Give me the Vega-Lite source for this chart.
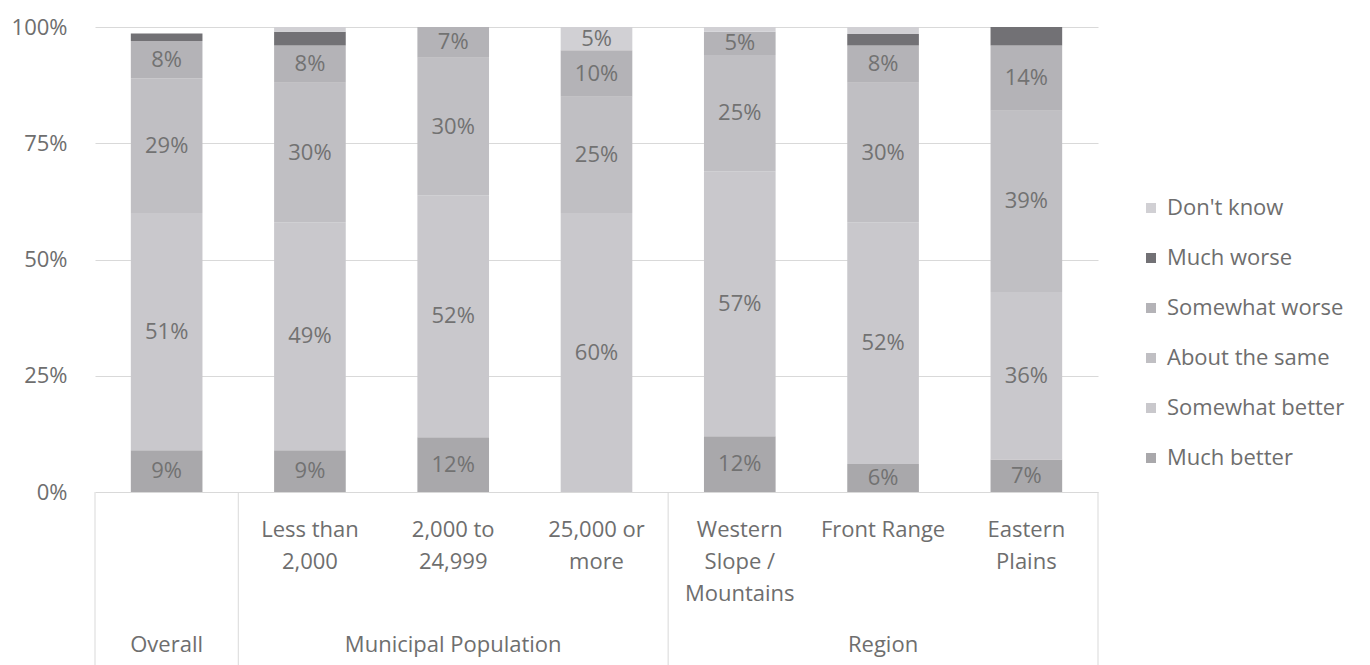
{
  "$schema": "https://vega.github.io/schema/vega-lite/v6.json",
  "width": 1003,
  "height": 638,
  "autosize": {"type": "none"},
  "padding": {"left": 95, "top": 27, "right": 272, "bottom": 0},
  "background": "white",
  "config": {
    "view": {"stroke": null},
    "font": "Open Sans",
    "text": {"font": "Open Sans"}
  },
  "datasets": {
    "bars": [
      {"category": "Overall", "response": "Much better", "value": 0.09},
      {"category": "Overall", "response": "Somewhat better", "value": 0.51},
      {"category": "Overall", "response": "About the same", "value": 0.29},
      {"category": "Overall", "response": "Somewhat worse", "value": 0.08},
      {"category": "Overall", "response": "Much worse", "value": 0.016},
      {"category": "Less than 2,000", "response": "Much better", "value": 0.09},
      {"category": "Less than 2,000", "response": "Somewhat better", "value": 0.49},
      {"category": "Less than 2,000", "response": "About the same", "value": 0.30},
      {"category": "Less than 2,000", "response": "Somewhat worse", "value": 0.08},
      {"category": "Less than 2,000", "response": "Much worse", "value": 0.03},
      {"category": "Less than 2,000", "response": "Don't know", "value": 0.01},
      {"category": "2,000 to 24,999", "response": "Much better", "value": 0.118},
      {"category": "2,000 to 24,999", "response": "Somewhat better", "value": 0.52},
      {"category": "2,000 to 24,999", "response": "About the same", "value": 0.296},
      {"category": "2,000 to 24,999", "response": "Somewhat worse", "value": 0.066},
      {"category": "25,000 or more", "response": "Somewhat better", "value": 0.60},
      {"category": "25,000 or more", "response": "About the same", "value": 0.25},
      {"category": "25,000 or more", "response": "Somewhat worse", "value": 0.10},
      {"category": "25,000 or more", "response": "Don't know", "value": 0.05},
      {"category": "Western Slope / Mountains", "response": "Much better", "value": 0.12},
      {"category": "Western Slope / Mountains", "response": "Somewhat better", "value": 0.57},
      {"category": "Western Slope / Mountains", "response": "About the same", "value": 0.25},
      {"category": "Western Slope / Mountains", "response": "Somewhat worse", "value": 0.05},
      {"category": "Western Slope / Mountains", "response": "Don't know", "value": 0.01},
      {"category": "Front Range", "response": "Much better", "value": 0.06},
      {"category": "Front Range", "response": "Somewhat better", "value": 0.52},
      {"category": "Front Range", "response": "About the same", "value": 0.30},
      {"category": "Front Range", "response": "Somewhat worse", "value": 0.08},
      {"category": "Front Range", "response": "Much worse", "value": 0.025},
      {"category": "Front Range", "response": "Don't know", "value": 0.015},
      {"category": "Eastern Plains", "response": "Much better", "value": 0.07},
      {"category": "Eastern Plains", "response": "Somewhat better", "value": 0.36},
      {"category": "Eastern Plains", "response": "About the same", "value": 0.39},
      {"category": "Eastern Plains", "response": "Somewhat worse", "value": 0.14},
      {"category": "Eastern Plains", "response": "Much worse", "value": 0.04}
    ],
    "responses": [
      {"response": "Much better", "rank": 1},
      {"response": "Somewhat better", "rank": 2},
      {"response": "About the same", "rank": 3},
      {"response": "Somewhat worse", "rank": 4},
      {"response": "Much worse", "rank": 5},
      {"response": "Don't know", "rank": 6}
    ],
    "cats": [
      {"category": "Less than 2,000", "label": "Less than\n2,000"},
      {"category": "2,000 to 24,999", "label": "2,000 to\n24,999"},
      {"category": "25,000 or more", "label": "25,000 or\nmore"},
      {"category": "Western Slope / Mountains", "label": "Western\nSlope /\nMountains"},
      {"category": "Front Range", "label": "Front Range"},
      {"category": "Eastern Plains", "label": "Eastern\nPlains"}
    ],
    "groups": [
      {"category": "Overall", "group": "Overall"},
      {"category": "2,000 to 24,999", "group": "Municipal Population"},
      {"category": "Front Range", "group": "Region"}
    ],
    "seps": [
      {"category": "Overall"},
      {"category": "Less than 2,000"},
      {"category": "Western Slope / Mountains"}
    ],
    "lastsep": [
      {"category": "Eastern Plains"}
    ]
  },
  "layer": [
    {
      "data": {"name": "bars"},
      "transform": [
        {"lookup": "response", "from": {"data": {"name": "responses"}, "key": "response", "fields": ["rank"]}},
        {"stack": "value", "groupby": ["category"], "sort": [{"field": "rank", "order": "ascending"}], "as": ["v0", "v1"]}
      ],
      "mark": {"type": "bar", "width": {"band": 0.5}},
      "encoding": {
        "x": {"field": "category", "type": "nominal", "axis": null,
              "scale": {"domain": ["Overall", "Less than 2,000", "2,000 to 24,999", "25,000 or more", "Western Slope / Mountains", "Front Range", "Eastern Plains"], "paddingInner": 0, "paddingOuter": 0}},
        "y": {"field": "v0", "type": "quantitative",
              "scale": {"domain": [-0.372, 1], "nice": false, "zero": false},
              "axis": {"values": [0, 0.25, 0.5, 0.75, 1], "format": ".0%", "title": null, "domain": false, "ticks": false,
                       "grid": true, "gridColor": "#d9d9d9", "gridWidth": 1, "labelFont": "Open Sans", "labelFontSize": 22,
                       "labelColor": "#6e6e6e", "labelPadding": 28}},
        "y2": {"field": "v1"},
        "color": {"field": "response", "type": "nominal",
                  "scale": {"domain": ["Much better", "Somewhat better", "About the same", "Somewhat worse", "Much worse", "Don't know"],
                            "range": ["#a9a8ab", "#c9c8cc", "#c0bfc3", "#b4b3b7", "#727175", "#d1d0d4"]},
                  "legend": {"values": ["Don't know", "Much worse", "Somewhat worse", "About the same", "Somewhat better", "Much better"],
                             "title": null, "orient": "none", "legendX": 1045, "legendY": 170, "padding": 0,
                             "symbolType": "square", "symbolSize": 100, "symbolStrokeWidth": 0,
                             "labelFont": "Open Sans", "labelFontSize": 22, "labelColor": "#6e6e6e", "labelLimit": 400,
                             "rowPadding": 28, "labelOffset": 5}}
      }
    },
    {
      "data": {"name": "bars"},
      "transform": [
        {"lookup": "response", "from": {"data": {"name": "responses"}, "key": "response", "fields": ["rank"]}},
        {"stack": "value", "groupby": ["category"], "sort": [{"field": "rank", "order": "ascending"}], "as": ["v0", "v1"]},
        {"calculate": "(datum.v0 + datum.v1) / 2", "as": "mid"},
        {"filter": "datum.value >= 0.045"}
      ],
      "mark": {"type": "text", "font": "Open Sans", "fontSize": 22, "color": "#727272", "align": "center", "baseline": "middle"},
      "encoding": {
        "x": {"field": "category", "type": "nominal", "axis": null},
        "y": {"field": "mid", "type": "quantitative"},
        "text": {"field": "value", "type": "quantitative", "format": ".0%"}
      }
    },
    {
      "data": {"name": "seps"},
      "mark": {"type": "rule", "color": "#d9d9d9", "strokeWidth": 1},
      "encoding": {
        "x": {"field": "category", "type": "nominal", "axis": null, "bandPosition": 0},
        "y": {"datum": 0, "type": "quantitative"},
        "y2": {"datum": -0.372}
      }
    },
    {
      "data": {"name": "lastsep"},
      "mark": {"type": "rule", "color": "#d9d9d9", "strokeWidth": 1},
      "encoding": {
        "x": {"field": "category", "type": "nominal", "axis": null, "bandPosition": 1},
        "y": {"datum": 0, "type": "quantitative"},
        "y2": {"datum": -0.372}
      }
    },
    {
      "data": {"name": "cats"},
      "mark": {"type": "text", "font": "Open Sans", "fontSize": 22, "color": "#6e6e6e", "align": "center", "baseline": "alphabetic", "lineBreak": "\n", "lineHeight": 32},
      "encoding": {
        "x": {"field": "category", "type": "nominal", "axis": null},
        "y": {"datum": -0.097, "type": "quantitative"},
        "text": {"field": "label", "type": "nominal"}
      }
    },
    {
      "data": {"name": "groups"},
      "mark": {"type": "text", "font": "Open Sans", "fontSize": 22, "color": "#6e6e6e", "align": "center", "baseline": "alphabetic"},
      "encoding": {
        "x": {"field": "category", "type": "nominal", "axis": null},
        "y": {"datum": -0.343, "type": "quantitative"},
        "text": {"field": "group", "type": "nominal"}
      }
    }
  ]
}
